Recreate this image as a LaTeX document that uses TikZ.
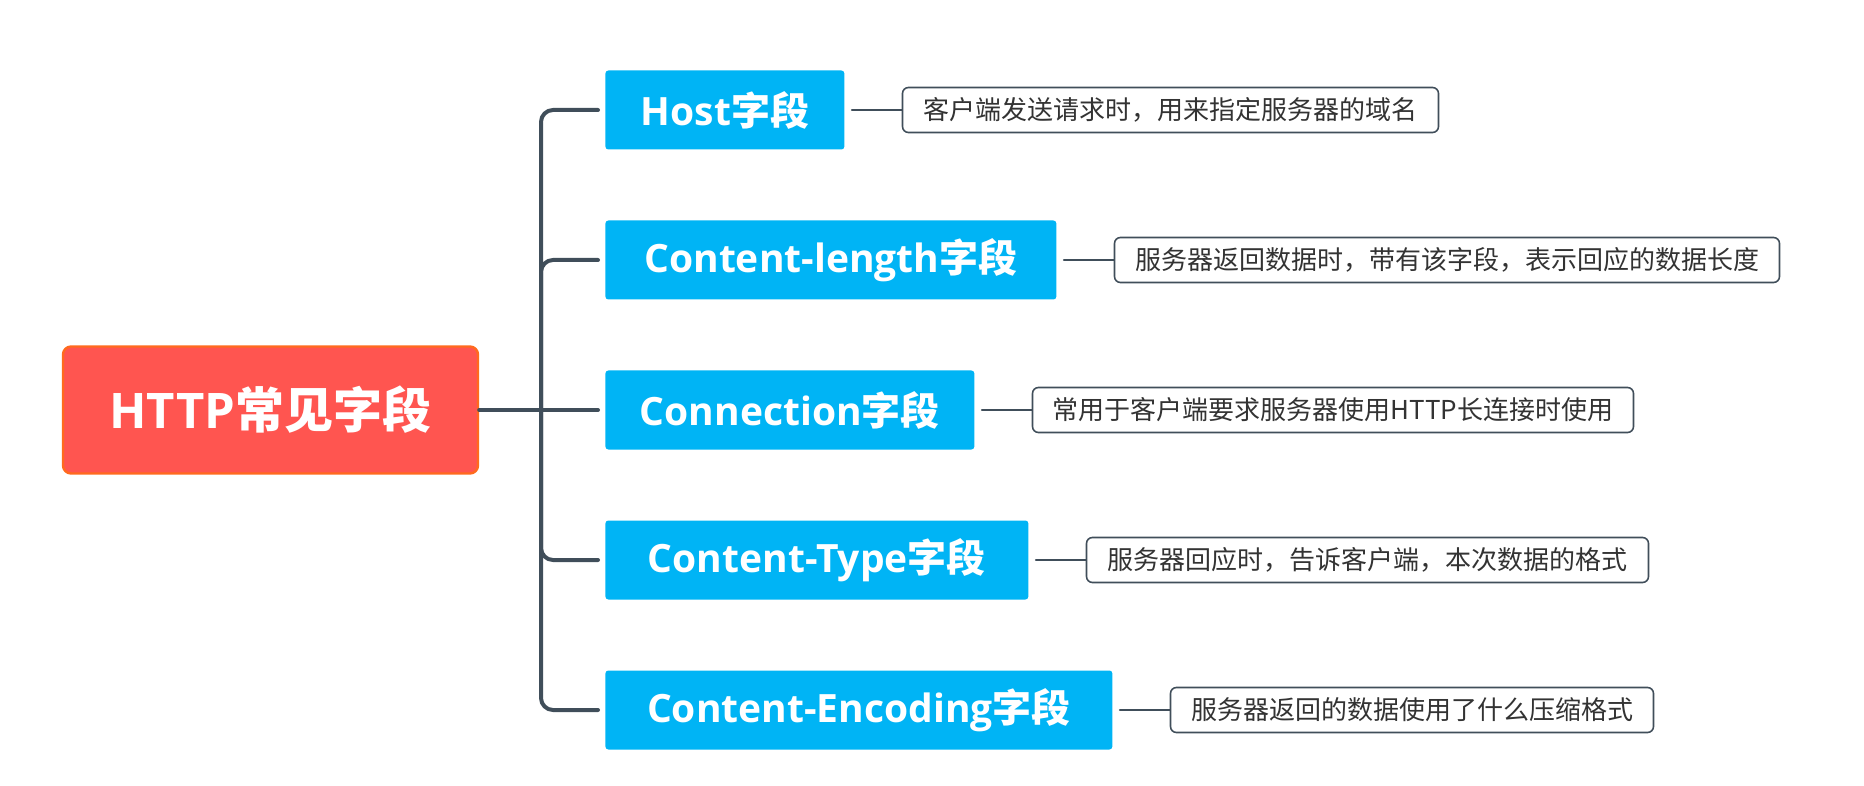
\documentclass[tikz,border=0pt]{standalone}
\usepackage{fontspec}
\setmainfont{Open Sans}
\newfontfamily\cjk{Noto Sans CJK SC}
\usetikzlibrary{positioning}

\definecolor{rootred}{HTML}{FF5550}
\definecolor{rootedge}{HTML}{FF6A1E}
\definecolor{fieldblue}{HTML}{00B4F5}
\definecolor{linkgray}{HTML}{404E5A}
\definecolor{notetext}{HTML}{333333}

\tikzset{
  rootbox/.style={fill=rootred,draw=rootedge,line width=1.2pt,rounded corners=4pt,
    text=white,font=\fontsize{24.5}{28}\selectfont\bfseries,
    minimum width=207.5pt,minimum height=63.5pt,inner sep=0pt},
  fieldbox/.style={fill=fieldblue,rounded corners=1.5pt,text=white,
    font=\fontsize{19.5}{23}\selectfont\bfseries,
    minimum height=39.5pt,inner sep=0pt,anchor=west},
  notebox/.style={draw=linkgray,fill=white,line width=0.8pt,rounded corners=3pt,
    text=notetext,font=\cjk\fontsize{13}{16}\selectfont,
    minimum height=22.5pt,inner sep=0pt,right=28.5pt},
  spine/.style={draw=linkgray,line width=2pt},
  twig/.style={draw=linkgray,line width=1pt,shorten <=3.5pt},
}

\begin{document}
\begin{tikzpicture}[x=0.5pt,y=-0.5pt,line cap=round,line join=round]
  \useasboundingbox (0,0) rectangle (1864,786);
  \node[rootbox] (root) at (270.5,410) {HTTP{\cjk\bfseries 常见字段}};
  \coordinate (fork) at (541,410);

  \node[fieldbox,minimum width=119.5pt] (host) at (605,110) {Host{\cjk\bfseries 字段}};
  \node[fieldbox,minimum width=225.5pt] (clen) at (605,260) {Content-length{\cjk\bfseries 字段}};
  \node[fieldbox,minimum width=184.5pt] (conn) at (605,410) {Connection{\cjk\bfseries 字段}};
  \node[fieldbox,minimum width=211.5pt] (ctype) at (605,560) {Content-Type{\cjk\bfseries 字段}};
  \node[fieldbox,minimum width=253.5pt] (cenc) at (605,710) {Content-Encoding{\cjk\bfseries 字段}};

  \node[notebox,minimum width=268pt,right=of host] (hostnote) {客户端发送请求时，用来指定服务器的域名};
  \node[notebox,minimum width=332.5pt,right=of clen] (clennote) {服务器返回数据时，带有该字段，表示回应的数据长度};
  \node[notebox,minimum width=300.5pt,right=of conn] (connnote) {常用于客户端要求服务器使用HTTP长连接时使用};
  \node[notebox,minimum width=281pt,right=of ctype] (ctypenote) {服务器回应时，告诉客户端，本次数据的格式};
  \node[notebox,minimum width=241.5pt,right=of cenc] (cencnote) {服务器返回的数据使用了什么压缩格式};

  % tree lines
  \draw[spine] (root.east) -- ([xshift=-3.5pt]conn.west);
  \draw[spine,rounded corners=6pt] ([xshift=-3.5pt]host.west) -| (fork) |- ([xshift=-3.5pt]cenc.west);
  \draw[spine,rounded corners=6pt] (fork) |- ([xshift=-3.5pt]clen.west);
  \draw[spine,rounded corners=6pt] (fork) |- ([xshift=-3.5pt]ctype.west);

  \draw[twig] (host) -- (hostnote);
  \draw[twig] (clen) -- (clennote);
  \draw[twig] (conn) -- (connnote);
  \draw[twig] (ctype) -- (ctypenote);
  \draw[twig] (cenc) -- (cencnote);
\end{tikzpicture}
\end{document}
